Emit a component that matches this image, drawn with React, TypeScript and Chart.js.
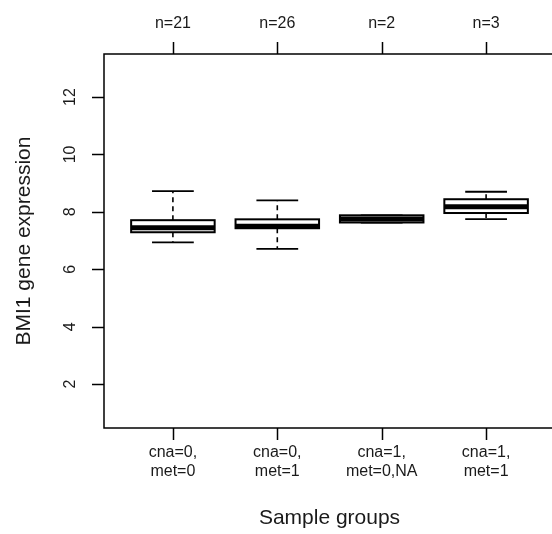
import React, { useEffect, useRef } from "react";
import { Chart, registerables } from "chart.js";

Chart.register(...registerables);

const groupLabels: string[][] = [
  ["cna=0,", "met=0"],
  ["cna=0,", "met=1"],
  ["cna=1,", "met=0,NA"],
  ["cna=1,", "met=1"],
];
const counts = [21, 26, 2, 3];
const whiskerLow = [6.94, 6.71, 7.63, 7.75];
const q1 = [7.29, 7.43, 7.63, 7.96];
const median = [7.45, 7.5, 7.75, 8.18];
const q3 = [7.71, 7.74, 7.88, 8.44];
const whiskerHigh = [8.72, 8.4, 7.88, 8.7];
const yTicks = [2, 4, 6, 8, 10, 12];
const yTitle = "BMI1 gene expression";
const xTitle = "Sample groups";

const FONT = "'Liberation Sans', Arial, Helvetica, sans-serif";
const BOX_WEX = 0.8;

const boxPlugin = {
  id: "rbox",
  afterDatasetsDraw(chart: any) {
    const ctx = chart.ctx as CanvasRenderingContext2D;
    const xs = chart.scales.x;
    const ys = chart.scales.y;
    ctx.save();
    ctx.strokeStyle = "#000";
    ctx.lineCap = "butt";
    for (let i = 0; i < counts.length; i++) {
      const x = xs.getPixelForValue(i + 1);
      const half = xs.getPixelForValue(i + 1 + BOX_WEX / 2) - x;
      const capHalf = half / 2;
      // whiskers (dashed)
      ctx.lineWidth = 1.6;
      ctx.setLineDash([5, 4]);
      ctx.beginPath();
      ctx.moveTo(x, ys.getPixelForValue(q3[i]));
      ctx.lineTo(x, ys.getPixelForValue(whiskerHigh[i]));
      ctx.moveTo(x, ys.getPixelForValue(q1[i]));
      ctx.lineTo(x, ys.getPixelForValue(whiskerLow[i]));
      ctx.stroke();
      ctx.setLineDash([]);
      // caps
      ctx.lineWidth = 1.8;
      ctx.beginPath();
      const yh = ys.getPixelForValue(whiskerHigh[i]);
      const yl = ys.getPixelForValue(whiskerLow[i]);
      ctx.moveTo(x - capHalf, yh);
      ctx.lineTo(x + capHalf, yh);
      ctx.moveTo(x - capHalf, yl);
      ctx.lineTo(x + capHalf, yl);
      ctx.stroke();
      // box
      const yTop = ys.getPixelForValue(q3[i]);
      const yBot = ys.getPixelForValue(q1[i]);
      ctx.fillStyle = "#fff";
      ctx.fillRect(x - half, yTop, half * 2, yBot - yTop);
      ctx.lineWidth = 2;
      ctx.strokeRect(x - half, yTop, half * 2, yBot - yTop);
      // median
      ctx.lineWidth = 5;
      ctx.beginPath();
      const ym = ys.getPixelForValue(median[i]);
      ctx.moveTo(x - half, ym);
      ctx.lineTo(x + half, ym);
      ctx.stroke();
    }
    ctx.restore();
  },
  afterDraw(chart: any) {
    const ctx = chart.ctx as CanvasRenderingContext2D;
    const xs = chart.scales.x;
    const ys = chart.scales.y;
    const a = chart.chartArea;
    ctx.save();
    ctx.strokeStyle = "#000";
    ctx.fillStyle = "#1a1a1a";
    // frame
    ctx.lineWidth = 1.5;
    ctx.strokeRect(a.left, a.top, a.right - a.left, a.bottom - a.top);
    const tl = 12;
    // left axis ticks
    ctx.beginPath();
    for (const v of yTicks) {
      const y = Math.round(ys.getPixelForValue(v)) + 0.5;
      ctx.moveTo(a.left, y);
      ctx.lineTo(a.left - tl, y);
    }
    ctx.stroke();
    ctx.font = `16px ${FONT}`;
    ctx.textAlign = "center";
    ctx.textBaseline = "middle";
    for (const v of yTicks) {
      const y = ys.getPixelForValue(v);
      ctx.save();
      ctx.translate(71, y);
      ctx.rotate(-Math.PI / 2);
      ctx.fillText(String(v), 0, 0);
      ctx.restore();
    }
    // bottom and top ticks
    ctx.beginPath();
    for (let i = 0; i < counts.length; i++) {
      const x = Math.round(xs.getPixelForValue(i + 1)) + 0.5;
      ctx.moveTo(x, a.bottom);
      ctx.lineTo(x, a.bottom + tl);
      ctx.moveTo(x, a.top);
      ctx.lineTo(x, a.top - tl);
    }
    ctx.stroke();
    ctx.textBaseline = "alphabetic";
    for (let i = 0; i < counts.length; i++) {
      const x = xs.getPixelForValue(i + 1);
      ctx.fillText(groupLabels[i][0], x, 457);
      ctx.fillText(groupLabels[i][1], x, 476);
      ctx.fillText("n=" + counts[i], x, 28);
    }
    // titles
    ctx.font = `21px ${FONT}`;
    ctx.fillText(xTitle, (a.left + a.right) / 2, 524);
    ctx.save();
    ctx.translate(30, (a.top + a.bottom) / 2);
    ctx.rotate(-Math.PI / 2);
    ctx.fillText(yTitle, 0, 0);
    ctx.restore();
    ctx.restore();
  },
};

export default function App() {
  const ref = useRef<HTMLCanvasElement | null>(null);
  useEffect(() => {
    if (!ref.current) return;
    const chart = new Chart(ref.current, {
      type: "bar",
      data: {
        datasets: [
          {
            data: counts.map((_, i) => ({ x: i + 1, y: [q1[i], q3[i]] })) as any,
            backgroundColor: "rgba(0,0,0,0)",
            borderWidth: 0,
            barPercentage: BOX_WEX,
            categoryPercentage: 1,
          },
        ],
      },
      options: {
        responsive: false,
        animation: false,
        devicePixelRatio: 1,
        events: [],
        layout: { padding: { left: 104, right: 5, top: 54, bottom: 106 } },
        plugins: { legend: { display: false }, tooltip: { enabled: false } },
        scales: {
          x: { type: "linear", min: 0.34, max: 4.66, display: false, offset: false },
          y: { type: "linear", min: 0.47, max: 13.5, display: false },
        },
      },
      plugins: [boxPlugin],
    });
    return () => chart.destroy();
  }, []);
  return (
    <div
      style={{
        position: "fixed",
        left: 0,
        top: 0,
        width: 552,
        height: 534,
        overflow: "hidden",
        background: "#fff",
      }}
    >
      <canvas ref={ref} width={560} height={534} style={{ display: "block" }} />
    </div>
  );
}
